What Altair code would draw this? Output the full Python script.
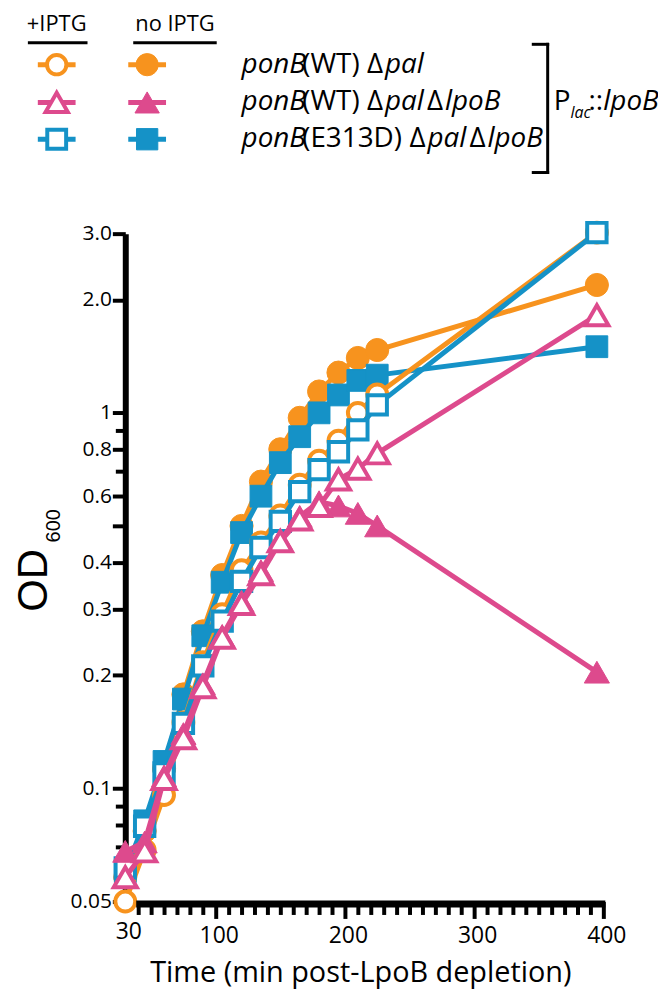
import altair as alt
import pandas as pd

# ---------------- data ----------------
times = [30, 45, 60, 75, 90, 105, 120, 135, 150, 165, 180, 195, 210, 225, 395]

wt_pal_iptg = [0.050, 0.0685, 0.096, 0.150, 0.217, 0.291, 0.381, 0.452, 0.533, 0.644, 0.746, 0.843, 1.00, 1.12, 3.02]
wt_pal_no = [0.058, 0.077, 0.113, 0.178, 0.262, 0.370, 0.500, 0.656, 0.800, 0.970, 1.14, 1.28, 1.40, 1.47, 2.19]
wt_lpob_iptg = [0.058, 0.068, 0.106, 0.136, 0.186, 0.252, 0.310, 0.372, 0.455, 0.520, 0.565, 0.665, 0.710, 0.780, 1.82]
wt_lpob_no = [0.068, 0.072, 0.108, 0.140, 0.190, 0.255, 0.315, 0.380, 0.460, 0.530, 0.580, 0.565, 0.540, 0.500, 0.204]
e313d_iptg = [0.0614, 0.0793, 0.110, 0.149, 0.212, 0.279, 0.356, 0.438, 0.514, 0.617, 0.706, 0.788, 0.901, 1.05, 3.02]
e313d_no = [0.060, 0.082, 0.118, 0.173, 0.255, 0.354, 0.480, 0.600, 0.737, 0.864, 1.00, 1.116, 1.22, 1.26, 1.50]

x_ticks = [30] + list(range(40, 401, 10))
x_labels = [30, 100, 200, 300, 400]
y_ticks = [0.05, 0.06, 0.07, 0.08, 0.09, 0.1, 0.2, 0.3, 0.4, 0.5, 0.6, 0.7, 0.8, 0.9, 1, 2, 3]
y_labels = [0.05, 0.1, 0.2, 0.3, 0.4, 0.6, 0.8, 1]

ORANGE = "#F7931E"
PINK = "#DD4A8D"
BLUE = "#1592C7"
FONT = "Open Sans"
TITLE_FONT = "Liberation Sans"

# ---------------- geometry ----------------
W, H = 481, 672
OX, OY = 126, 232  # page position of plot origin (8px margin + padding)


def px(x):
    return x - OX


def py(y):
    return y - OY


xscale = alt.Scale(domain=[30, 400], nice=False, zero=False)
yscale = alt.Scale(type="log", domain=[0.05, 3.0], nice=False)

xaxis = alt.Axis(
    values=x_ticks,
    labelExpr="indexof(" + str(x_labels) + ", datum.value) >= 0 ? datum.label : ''",
    format="d",
    tickSize={"condition": {"test": "datum.value % 100 === 0", "value": 17}, "value": 13},
    tickOpacity={"condition": {"test": "datum.value === 30", "value": 0}, "value": 1},
    tickWidth=4,
    tickColor="black",
    domain=False,
    labelPadding=6,
    labelOffset=3,
    labelFontSize=23,
    labelFont=FONT,
    labelColor="black",
    labelOverlap=False,
    labelFlush=False,
    grid=False,
    title=None,
)

yaxis = alt.Axis(
    values=y_ticks,
    labelExpr="datum.value >= 2 ? format(datum.value, '.1f') : (indexof(" + str(y_labels)
    + ", datum.value) >= 0 ? format(datum.value, '~g') : '')",
    tickSize={"condition": {"test": "indexof([0.06,0.07,0.08,0.09,0.7,0.9], datum.value) >= 0", "value": 10},
              "value": 13},
    tickWidth=4,
    tickColor="black",
    domain=True,
    domainWidth=6,
    domainColor="black",
    labelPadding=1,
    labelFontSize=21,
    labelFont=FONT,
    labelColor="black",
    labelOverlap=False,
    labelFlush=False,
    grid=False,
    title=None,
)


def series_layers(vals, color, shape, filled, size):
    df = pd.DataFrame({"time": times, "od": vals})
    base = alt.Chart(df).encode(
        x=alt.X("time:Q", scale=xscale, axis=xaxis),
        y=alt.Y("od:Q", scale=yscale, axis=yaxis),
    )
    line = base.mark_line(color=color, strokeWidth=5)
    if filled:
        pts = base.mark_point(shape=shape, size=size, filled=True, fill=color, stroke=color,
                              strokeWidth=1, opacity=1)
    else:
        pts = base.mark_point(shape=shape, size=size, filled=True, fill="white", stroke=color,
                              strokeWidth=4, opacity=1, fillOpacity=1)
    return [line, pts]


layers = []
layers += series_layers(wt_pal_no, ORANGE, "circle", True, 540)
layers += series_layers(e313d_no, BLUE, "square", True, 480)
layers += series_layers(wt_pal_iptg, ORANGE, "circle", False, 400)
layers += series_layers(e313d_iptg, BLUE, "square", False, 380)
layers += series_layers(wt_lpob_no, PINK, "triangle-up", True, 640)
layers += series_layers(wt_lpob_iptg, PINK, "triangle-up", False, 540)

# ---------------- annotations ----------------
dummy = pd.DataFrame({"k": [0]})


def text(s, x, y, size, italic=False, align="left", baseline="middle", angle=0, font=FONT):
    return alt.Chart(dummy).mark_text(
        text=s, fontSize=size, font=font, fontStyle="italic" if italic else "normal",
        align=align, baseline=baseline, angle=angle, color="black",
    ).encode(x=alt.value(px(x)), y=alt.value(py(y)))


def hrule(x1, x2, y, w, color="black"):
    return alt.Chart(dummy).mark_rule(color=color, strokeWidth=w).encode(
        x=alt.value(px(x1)), x2=alt.value(px(x2)), y=alt.value(py(y)))


def vrule(x, y1, y2, w, color="black"):
    return alt.Chart(dummy).mark_rule(color=color, strokeWidth=w).encode(
        x=alt.value(px(x)), y=alt.value(py(y1)), y2=alt.value(py(y2)))


def symbol(x, y, color, shape, filled, size):
    if filled:
        m = alt.Chart(dummy).mark_point(shape=shape, size=size, filled=True, fill=color,
                                        stroke=color, strokeWidth=1, opacity=1)
    else:
        m = alt.Chart(dummy).mark_point(shape=shape, size=size, filled=True, fill="white",
                                        stroke=color, strokeWidth=4, opacity=1)
    return [hrule(x - 19, x + 19, y, 5, color),
            m.encode(x=alt.value(px(x)), y=alt.value(py(y)))]


# x axis line
layers.append(hrule(137, 609, 906.5, 7))

# axis titles
layers.append(text("Time (min post-LpoB depletion)", 363, 976, 29, align="center"))
layers.append(text("OD", 34, 581, 42, align="center", angle=270, font=TITLE_FONT))
layers.append(text("600", 54, 526, 20, align="center", angle=270, font=TITLE_FONT))

# legend headers
layers.append(text("+IPTG", 57, 21, 22, align="center"))
layers.append(hrule(28, 88, 40, 3))
layers.append(text("no IPTG", 176, 21, 22, align="center"))
layers.append(hrule(134, 218, 40, 3))

# legend symbols
rows = [62, 100, 137]
layers += symbol(57, rows[0], ORANGE, "circle", False, 380)
layers += symbol(148, rows[0], ORANGE, "circle", True, 500)
layers += symbol(57, rows[1], PINK, "triangle-up", False, 500)
layers += symbol(148, rows[1], PINK, "triangle-up", True, 600)
layers += symbol(57, rows[2], BLUE, "square", False, 360)
layers += symbol(148, rows[2], BLUE, "square", True, 460)

# legend labels (mixed italic / regular pieces)
WID = {'p': 0.613, 'o': 0.602, 'n': 0.613, 'B': 0.648, '(': 0.296, ')': 0.296, 'W': 0.925,
       'T': 0.556, ' ': 0.26, 'Δ': 0.64, 'a': 0.556, 'l': 0.258, 'E': 0.556, '3': 0.572,
       '1': 0.572, 'D': 0.736, 'P': 0.603, ':': 0.267, 'c': 0.487}


def measure(s, size, italic=False):
    w = sum(WID.get(ch, 0.57) for ch in s) * size
    return w * 0.88 if italic else w


def rich(pieces, x, y, size):
    out = []
    for s, it in pieces:
        if s.strip():
            out.append(text(s, x, y, size, italic=it))
        x += measure(s, size, it)
    return out


LS = 28
layers += rich([("ponB", True), ("(WT)", False), (" ", False), ("Δ", False), ("pal", True)],
               243, rows[0], LS)
layers += rich([("ponB", True), ("(WT)", False), (" ", False), ("Δ", False), ("pal", True),
                (" ", False), ("Δ", False), ("lpoB", True)], 243, rows[1], LS)
layers += rich([("ponB", True), ("(E313D)", False), (" ", False), ("Δ", False), ("pal", True),
                (" ", False), ("Δ", False), ("lpoB", True)], 243, rows[2], LS)

# bracket and promoter label
layers.append(vrule(551, 40, 172, 3))
layers.append(hrule(535, 552.5, 41.5, 3))
layers.append(hrule(535, 552.5, 170.5, 3))
layers.append(text("P", 557, 100, LS))
layers.append(text("lac", 574, 111, 16, italic=True))
layers.append(text("::", 592, 100, LS))
layers.append(text("lpoB", 592 + measure("::", LS), 100, LS, italic=True))

chart = alt.layer(*layers).properties(
    width=W,
    height=H,
    background="white",
    autosize=alt.AutoSizeParams(type="none"),
    padding={"left": OX - 8, "top": OY - 8, "right": 55, "bottom": 89},
).configure_view(stroke=None)

chart.save("out.html", embed_options={"renderer": "svg", "actions": False})
